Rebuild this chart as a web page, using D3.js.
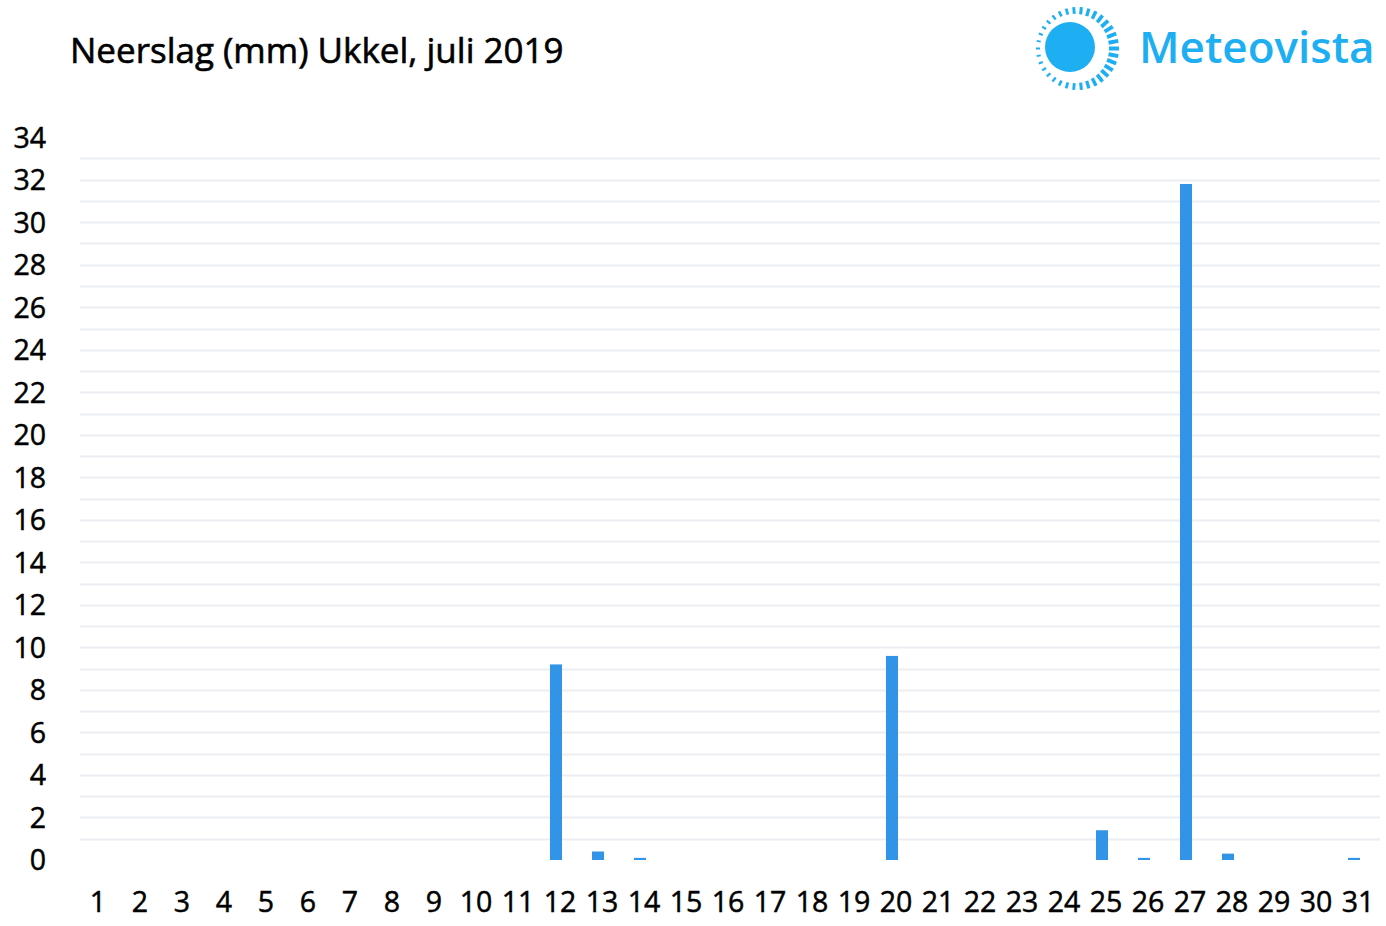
<!DOCTYPE html>
<html>
<head>
<meta charset="utf-8">
<script src="https://cdn.jsdelivr.net/npm/d3@7/dist/d3.min.js"></script>
<style>
  html, body { margin: 0; padding: 0; background: #fff; }
  svg { display: block; font-family: "Open Sans", "Noto Sans", sans-serif; }
</style>
</head>
<body>
<svg id="chart" width="1386" height="926"></svg>
<script>
const title = "Neerslag (mm) Ukkel, juli 2019";
const brand = "Meteovista";
const days = ["1","2","3","4","5","6","7","8","9","10","11","12","13","14","15","16","17","18","19","20","21","22","23","24","25","26","27","28","29","30","31"];
const rain = [0,0,0,0,0,0,0,0,0,0,0,9.2,0.4,0.1,0,0,0,0,0,9.6,0,0,0,0,1.4,0.1,31.8,0.3,0,0,0.1];
const yTicks = [0,2,4,6,8,10,12,14,16,18,20,22,24,26,28,30,32,34];
const gridValues = d3.range(1, 34);

const svg = d3.select("#chart");

const x = d3.scaleBand().domain(days).range([73, 1375]).paddingInner(0.714).paddingOuter(0.357);
const y = d3.scaleLinear().domain([0, 34]).range([860, 137.2]);

// grid
svg.append("g").selectAll("line").data(gridValues).join("line")
  .attr("x1", 80).attr("x2", 1380)
  .attr("y1", d => Math.round(y(d)) + 0.5).attr("y2", d => Math.round(y(d)) + 0.5)
  .attr("stroke", "#ebeef2").attr("stroke-width", 2);

function styleTick(sel) {
  sel.attr("font-size", 28.5).attr("font-weight", 400).attr("fill", "#000")
    .attr("stroke", "#000").attr("stroke-width", 0.5)
    .attr("font-family", "Open Sans");
}

// y axis
const yAxis = d3.axisLeft(y).tickValues(yTicks).tickSize(0).tickPadding(0);
const gy = svg.append("g").attr("transform", "translate(46,0)").call(yAxis);
gy.select(".domain").remove();
gy.selectAll("text").call(styleTick).attr("dy", "0.35em");

// x axis
const xAxis = d3.axisBottom(x).tickSize(0).tickPadding(0);
const gx = svg.append("g").attr("transform", "translate(4,892)").call(xAxis);
gx.select(".domain").remove();
gx.selectAll("text").call(styleTick).attr("dy", "0.71em");

// bars
svg.append("g").selectAll("rect").data(rain).join("rect")
  .attr("x", (d, i) => x(days[i]))
  .attr("width", x.bandwidth())
  .attr("y", d => y(d))
  .attr("height", d => y(0) - y(d))
  .attr("fill", "#3194e6");

// title
svg.append("text").attr("x", 70).attr("y", 63)
  .attr("font-size", 35).attr("font-weight", 400).attr("fill", "#000")
  .attr("stroke", "#000").attr("stroke-width", 0.6)
  .text(title);

// logo
const logo = svg.append("g");
const blue = "#1eaef2";
logo.append("circle").attr("cx", 1070).attr("cy", 47).attr("r", 25).attr("fill", blue);
const nD = 34;
const rc = {x: 1077.5, y: 48.5};
for (let i = 0; i < nD; i++) {
  const a = (i / nD) * 2 * Math.PI;
  const t = (1 + Math.cos(a)) / 2;
  const len = 4 + 6 * t;
  const rOuter = 41.5;
  const rInner = rOuter - len;
  logo.append("line")
    .attr("x1", rc.x + rInner * Math.cos(a)).attr("y1", rc.y + rInner * Math.sin(a))
    .attr("x2", rc.x + rOuter * Math.cos(a)).attr("y2", rc.y + rOuter * Math.sin(a))
    .attr("stroke", blue).attr("stroke-width", 2 + 2 * t);
}
logo.append("text").attr("x", 1139).attr("y", 63)
  .attr("font-size", 44).attr("font-weight", 600).attr("fill", blue)
  .text(brand);
</script>
</body>
</html>
